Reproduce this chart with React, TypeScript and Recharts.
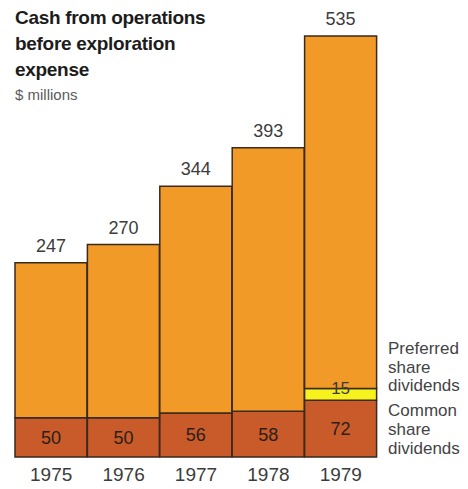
import React from 'react'
import { Bar, BarChart, LabelList, XAxis, YAxis } from 'recharts'

const years = ['1975', '1976', '1977', '1978', '1979']
const totals = [247, 270, 344, 393, 535]
const commonDividends = [50, 50, 56, 58, 72]
const preferredDividends = [0, 0, 0, 0, 15]

const data = years.map((year, i) => ({
  year,
  total: totals[i],
  common: commonDividends[i],
  preferred: preferredDividends[i],
  rest: totals[i] - commonDividends[i] - preferredDividends[i],
}))

const font = '"Liberation Sans", Arial, Helvetica, sans-serif'
const outline = '#3a2a1c'
const textColor = '#3c3c3c'

// "15" sits right on the top edge of the yellow band
const PreferredLabel = (props: any) => {
  const { x, y, width, value } = props
  if (!value) return null
  return (
    <text
      x={x + width / 2}
      y={y + 1}
      textAnchor="middle"
      dominantBaseline="middle"
      fontSize={17}
      fontFamily={font}
      fill={textColor}
    >
      {value}
    </text>
  )
}

export default function App() {
  return (
    <div
      style={{
        position: 'absolute',
        left: 0,
        top: 0,
        width: 468,
        height: 489,
        background: '#fff',
        fontFamily: font,
      }}
    >
      <BarChart
        width={468}
        height={489}
        data={data}
        margin={{ top: 36, right: 91, bottom: 2, left: 15 }}
        barCategoryGap={0}
      >
        <XAxis
          dataKey="year"
          height={30}
          axisLine={false}
          tickLine={false}
          tickMargin={5}
          tick={{ fontSize: 19, fill: textColor, fontFamily: font }}
        />
        <YAxis hide domain={[0, 535]} />

        {/* Common share dividends */}
        <Bar
          dataKey="common"
          stackId="a"
          fill="#c95a2a"
          stroke={outline}
          strokeWidth={1.5}
          isAnimationActive={false}
        >
          <LabelList
            dataKey="common"
            position="center"
            fontSize={18}
            fill="#2a2018"
            fontFamily={font}
          />
        </Bar>

        {/* Preferred share dividends */}
        <Bar
          dataKey="preferred"
          stackId="a"
          fill="#f5f21e"
          stroke={outline}
          strokeWidth={1.5}
          isAnimationActive={false}
        >
          <LabelList dataKey="preferred" content={<PreferredLabel />} />
        </Bar>

        {/* Remaining cash */}
        <Bar
          dataKey="rest"
          stackId="a"
          fill="#f29a28"
          stroke={outline}
          strokeWidth={1.5}
          isAnimationActive={false}
        >
          <LabelList
            dataKey="total"
            position="top"
            offset={11}
            fontSize={18}
            fill={textColor}
            fontFamily={font}
          />
        </Bar>
      </BarChart>

      <div
        style={{
          position: 'absolute',
          left: 15,
          top: 5,
          fontSize: 19,
          fontWeight: 'bold',
          lineHeight: '26px',
          color: '#1c1c1c',
          letterSpacing: -0.3,
        }}
      >
        Cash from operations
        <br />
        before exploration
        <br />
        expense
      </div>
      <div
        style={{
          position: 'absolute',
          left: 15,
          top: 86,
          fontSize: 15,
          color: '#5a5a5a',
        }}
      >
        $ millions
      </div>

      <div
        style={{
          position: 'absolute',
          left: 388,
          top: 340,
          fontSize: 17,
          lineHeight: '18.5px',
          color: '#444',
        }}
      >
        Preferred
        <br />
        share
        <br />
        dividends
      </div>
      <div
        style={{
          position: 'absolute',
          left: 388,
          top: 401,
          fontSize: 17,
          lineHeight: '19px',
          color: '#444',
        }}
      >
        Common
        <br />
        share
        <br />
        dividends
      </div>
    </div>
  )
}
